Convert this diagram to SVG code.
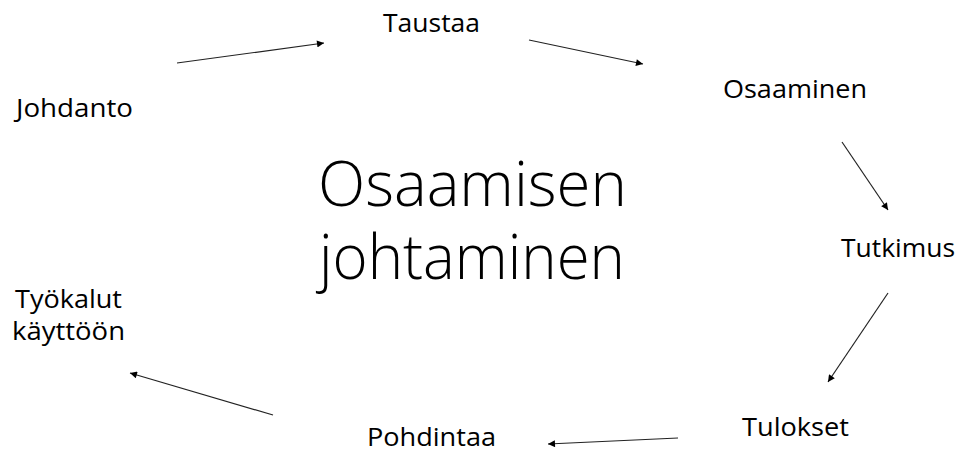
<svg xmlns="http://www.w3.org/2000/svg" width="961" height="453" viewBox="0 0 961 453">
<defs>
<marker id="ah" viewBox="0 0 10 10" refX="10" refY="5" markerWidth="9" markerHeight="7" markerUnits="userSpaceOnUse" orient="auto">
<path d="M0,0 L10,5 L0,10 Z" fill="#000"/>
</marker>
<style>
.lbl{font-family:"Open Sans","Liberation Sans",sans-serif;font-size:25px;fill:#000;}
.title{font-family:"Open Sans","Liberation Sans",sans-serif;font-weight:300;font-size:62px;fill:#000;}
.cn{stroke:#222;stroke-width:1.2;fill:none;marker-end:url(#ah);}
</style>
</defs>
<rect width="961" height="453" fill="#fff"/>
<g id="center"><text class="title" x="318" y="206" textLength="309" lengthAdjust="spacingAndGlyphs">Osaamisen</text><text class="title" x="319" y="279" textLength="306" lengthAdjust="spacingAndGlyphs">johtaminen</text></g>
<g id="taustaa"><text class="lbl" x="383" y="32" textLength="97" lengthAdjust="spacingAndGlyphs">Taustaa</text></g>
<g id="johdanto"><text class="lbl" x="16" y="117" textLength="117" lengthAdjust="spacingAndGlyphs">Johdanto</text></g>
<g id="osaaminen"><text class="lbl" x="723" y="98" textLength="144" lengthAdjust="spacingAndGlyphs">Osaaminen</text></g>
<g id="tutkimus"><text class="lbl" x="841" y="257" textLength="114" lengthAdjust="spacingAndGlyphs">Tutkimus</text></g>
<g id="tyokalut"><text class="lbl" x="15" y="308" textLength="107" lengthAdjust="spacingAndGlyphs">Työkalut</text><text class="lbl" x="12" y="340" textLength="113" lengthAdjust="spacingAndGlyphs">käyttöön</text></g>
<g id="tulokset"><text class="lbl" x="742" y="436" textLength="107" lengthAdjust="spacingAndGlyphs">Tulokset</text></g>
<g id="pohdintaa"><text class="lbl" x="367" y="446" textLength="129" lengthAdjust="spacingAndGlyphs">Pohdintaa</text></g>
<g id="connectors">
<line class="cn" x1="177" y1="63" x2="324" y2="43"/>
<line class="cn" x1="529" y1="40" x2="643" y2="64"/>
<line class="cn" x1="842" y1="142" x2="888" y2="210"/>
<line class="cn" x1="888" y1="293" x2="828" y2="382"/>
<line class="cn" x1="678" y1="438" x2="548" y2="444"/>
<line class="cn" x1="273" y1="415" x2="130" y2="373"/>
</g>
</svg>
